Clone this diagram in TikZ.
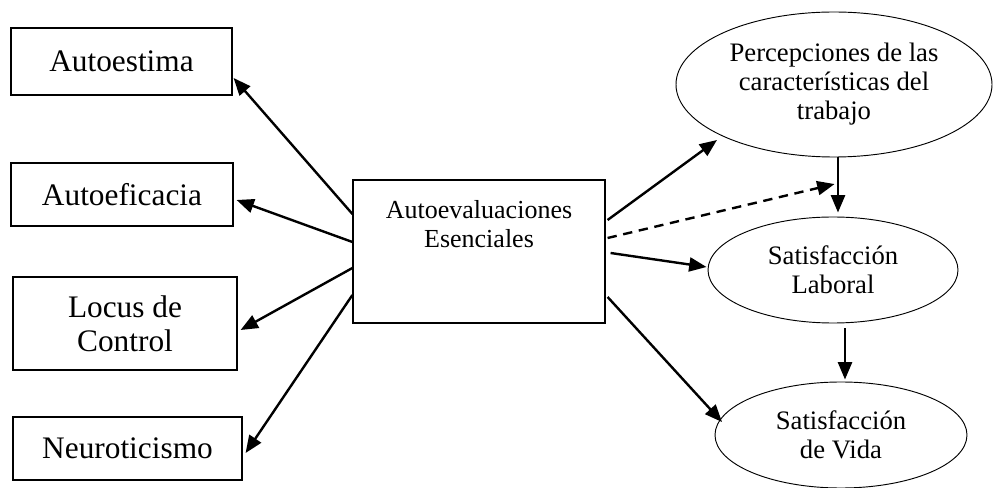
\documentclass[tikz,border=0pt]{standalone}
\usepackage{fontspec}
\setmainfont{Liberation Serif}
\usetikzlibrary{arrows.meta,shapes.geometric,calc}

\begin{document}
\begin{tikzpicture}[
  x=0.75pt, y=-0.75pt,
  trait/.style={draw, line width=0.9pt, inner sep=0pt, align=center,
    font=\fontsize{23.5}{25.5}\selectfont},
  core/.style={draw, line width=0.9pt, inner sep=0pt},
  corelabel/.style={align=center, inner sep=0pt,
    font=\fontsize{19.5}{21.75}\selectfont},
  outcome/.style={ellipse, draw, line width=0.7pt, inner sep=0pt, align=center,
    font=\fontsize{20}{21.75}\selectfont},
  link/.style={line width=1.8pt, -{Triangle[length=13pt,width=10.5pt]}},
  moderation/.style={link, dash pattern=on 7pt off 5pt}
]
\useasboundingbox (0,0) rectangle (993,488);

% Traits on the left
\node[trait, minimum width=165.75pt, minimum height=50.25pt] (ae) at (121.5,61.5) {Autoestima};
\node[trait, minimum width=166.5pt, minimum height=47.25pt] (af) at (122,194.5) {Autoeficacia};
\node[trait, minimum width=168pt, minimum height=69.75pt] (lc) at (125,323.5) {Locus de\\Control};
\node[trait, minimum width=171.75pt, minimum height=47.25pt] (ne) at (127.5,448.5) {Neuroticismo};

% Central construct
\node[core, minimum width=189pt, minimum height=107.25pt] (cen) at (479,251.5) {};
\node[corelabel] (cenlbl) at (479,224) {Autoevaluaciones\\Esenciales};

% Outcomes on the right
\node[outcome, minimum width=237pt, minimum height=108.75pt] (pc) at (834,84.5)
  {Percepciones de las\\características del\\trabajo};
\node[outcome, minimum width=187.5pt, minimum height=79.5pt] (sl) at (833,270)
  {Satisfacción\\Laboral};
\node[outcome, minimum width=189pt, minimum height=79.5pt] (sv) at (841,435)
  {Satisfacción\\de Vida};

% Arrows towards the traits
\draw[link] ($(cen.west)+(0,-37.5)$) -- ($(ae.east)+(1,16.5)$);
\draw[link] ($(cen.west)+(0,-9.5)$) -- ($(af.east)+(3,5.5)$);
\draw[link] ($(cen.west)+(0,16.5)$) -- ($(lc.east)+(3,6.5)$);
\draw[link] ($(cen.west)+(0,43.5)$) -- ($(ne.east)+(3,4.5)$);

% Arrows towards the outcomes
\draw[link] ($(cen.east)+(2,-31.5)$) -- ($(pc.center)+(-117,55.5)$);
\draw[link] ($(cen.east)+(5,1.5)$) -- ($(sl.west)+(-1,-3)$);
\draw[link] ($(cen.east)+(2,45.5)$) -- ($(sv.center)+(-119,-13)$);

% Path between outcomes and the moderating effect
\draw[link] ($(pc.south)+(4,0)$) -- ($(sl.north)+(5,-4)$);
\coordinate (mod) at ($(pc.south)!0.45!(sl.north)+(1,0)$);
\draw[moderation] ($(cen.east)+(2,-13.5)$) -- (mod);
\draw[link] ($(sl.south)+(12,5)$) -- ($(sv.north)+(4,-2)$);
\end{tikzpicture}
\end{document}
